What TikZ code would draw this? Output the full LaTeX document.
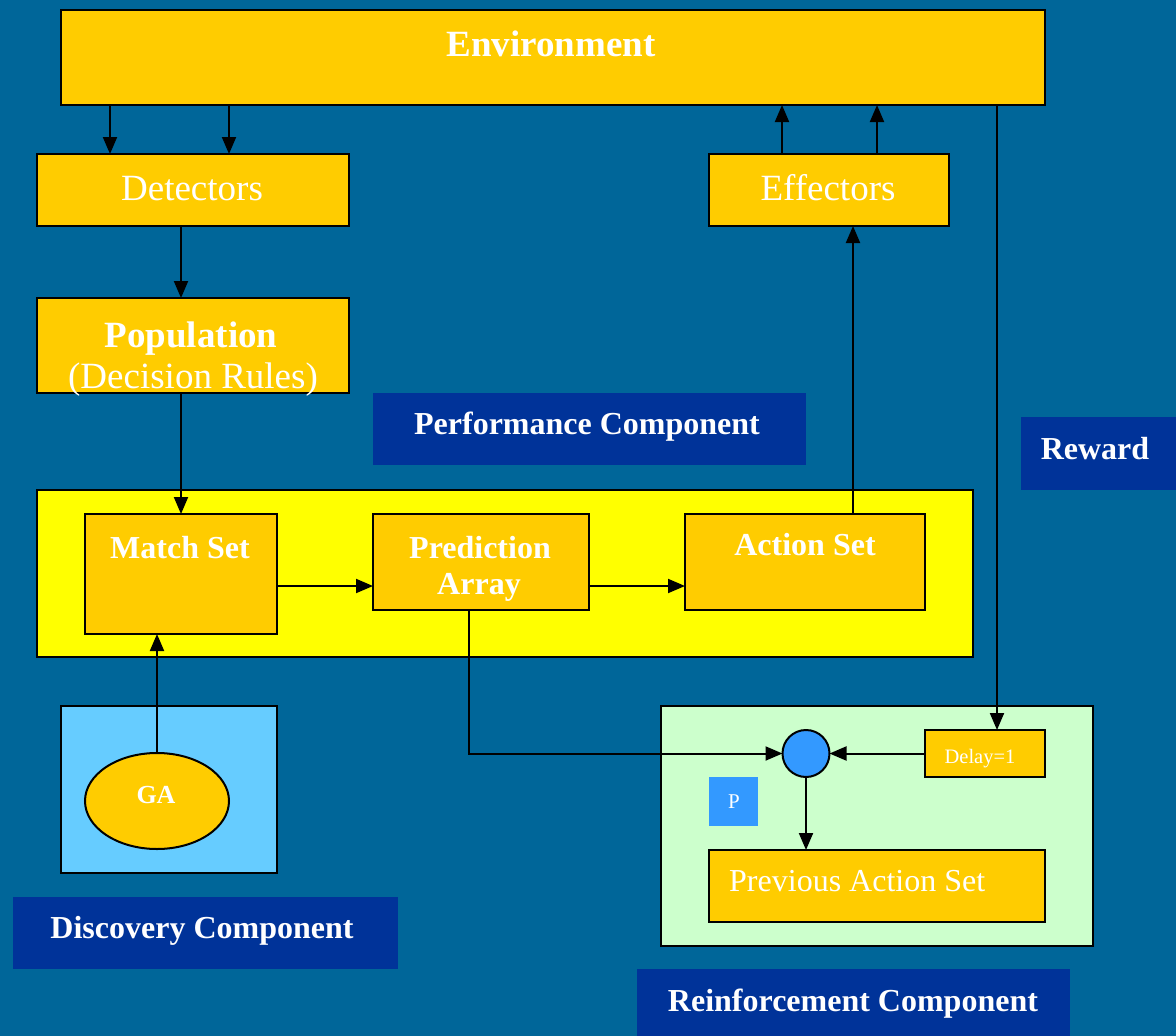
\documentclass[tikz,border=0pt]{standalone}
\usepackage{fontspec}
\setmainfont{Liberation Serif}
\usetikzlibrary{arrows.meta,shapes.geometric}
\definecolor{bgblue}{HTML}{006699}
\definecolor{gold}{HTML}{FFCC00}
\definecolor{brightyellow}{HTML}{FFFF00}
\definecolor{labelblue}{HTML}{003399}
\definecolor{skyfill}{HTML}{66CCFF}
\definecolor{mintfill}{HTML}{CCFFCC}
\definecolor{dotblue}{HTML}{3399FF}
\tikzset{
  boxbase/.style={rectangle, draw=black, line width=2pt, inner sep=0pt, outer sep=0pt, anchor=north west},
  goldbox/.style={boxbase, fill=gold},
  labelbox/.style={rectangle, fill=labelblue, inner sep=0pt, outer sep=0pt, anchor=north west},
  txt/.style={text=white, inner sep=0pt, anchor=base},
  bigfont/.style={font=\fontsize{37}{40}\selectfont},
  midfont/.style={font=\fontsize{32}{36}\selectfont\bfseries},
  arr/.style={-{Triangle[length=17pt,width=14pt]}, line width=2pt},
}
\begin{document}
\begin{tikzpicture}[x=1pt,y=-1pt]
\useasboundingbox (0,0) rectangle (1176,1036);
\fill[bgblue] (0,0) rectangle (1176,1036);

% boxes
\node[goldbox, minimum width=984pt, minimum height=95pt] (env) at (61,10) {};
\node[goldbox, minimum width=312pt, minimum height=72pt] (det) at (37,154) {};
\node[goldbox, minimum width=240pt, minimum height=72pt] (eff) at (709,154) {};
\node[goldbox, minimum width=312pt, minimum height=95pt] (pop) at (37,298) {};
\node[labelbox, minimum width=433pt, minimum height=72pt] (perfL) at (373,393) {};
\node[labelbox, minimum width=160pt, minimum height=73pt] (rewL) at (1021,417) {};
\node[boxbase, fill=brightyellow, minimum width=936pt, minimum height=167pt] (outer) at (37,490) {};
\node[goldbox, minimum width=192pt, minimum height=120pt] (match) at (85,514) {};
\node[goldbox, minimum width=216pt, minimum height=96pt] (pred) at (373,514) {};
\node[goldbox, minimum width=240pt, minimum height=96pt] (act) at (685,514) {};
\node[boxbase, fill=skyfill, minimum width=216pt, minimum height=167pt] (disc) at (61,706) {};
\node[boxbase, fill=gold, ellipse, anchor=center, minimum width=144pt, minimum height=96pt] (ga) at (157,801) {};
\node[labelbox, minimum width=385pt, minimum height=72pt] (discL) at (13,897) {};
\node[boxbase, fill=mintfill, minimum width=432pt, minimum height=240pt] (reinf) at (661,706) {};
\node[boxbase, fill=dotblue, circle, anchor=center, minimum size=47pt] (circ) at (806,753.5) {};
\node[goldbox, minimum width=120pt, minimum height=47pt] (delay) at (925,730) {};
\node[rectangle, fill=dotblue, inner sep=0pt, anchor=north west, minimum width=49pt, minimum height=49pt] (pbox) at (709,777) {};
\node[goldbox, minimum width=336pt, minimum height=72pt] (prev) at (709,850) {};
\node[labelbox, minimum width=433pt, minimum height=70pt] (reinfL) at (637,969) {};

% helper coordinates for connector positions
\coordinate (x110) at (110,0);
\coordinate (x229) at (229,0);
\coordinate (x782) at (782,0);
\coordinate (x877) at (877,0);
\coordinate (x181) at (181,0);
\coordinate (x853) at (853,0);
\coordinate (x997) at (997,0);
\coordinate (x469) at (469,0);
\coordinate (y586) at (0,586);

% connectors
\draw[arr] (env.south -| x110) -- (det.north -| x110);
\draw[arr] (env.south -| x229) -- (det.north -| x229);
\draw[arr] (eff.north -| x782) -- (env.south -| x782);
\draw[arr] (eff.north -| x877) -- (env.south -| x877);
\draw[arr] (det.south -| x181) -- (pop.north -| x181);
\draw[arr] (pop.south -| x181) -- (match.north -| x181);
\draw[arr] (match.east |- y586) -- (pred.west |- y586);
\draw[arr] (pred.east |- y586) -- (act.west |- y586);
\draw[arr] (act.north -| x853) -- (eff.south -| x853);
\draw[arr] (env.south -| x997) -- (delay.north -| x997);
\draw[arr] (pred.south -| x469) |- (circ.west);
\draw[arr] (delay.west) -- (circ.east);
\draw[arr] (circ.south) -- (prev.north -| circ.south);
\draw[arr] (ga.north) -- (match.south -| ga.north);

% texts
\node[txt, bigfont] (envT) at (551,56) {\bfseries Environment};
\node[txt, bigfont] (detT) at (192,200) {Detectors};
\node[txt, bigfont] (effT) at (828,200) {Effectors};
\node[txt, bigfont] (popT) at (191,347) {\bfseries Population};
\node[txt, bigfont] (popT2) at (193,388) {(Decision Rules)};
\node[txt, midfont] (perfT) at (587,434) {Performance Component};
\node[txt, midfont] (rewT) at (1095,459) {Reward};
\node[txt, midfont] (matchT) at (180,558) {Match Set};
\node[txt, midfont] (predT) at (480,558) {Prediction};
\node[txt, midfont] (predT2) at (479,594) {Array};
\node[txt, midfont] (actT) at (805,555) {Action Set};
\node[txt, font=\fontsize{26}{30}\selectfont\bfseries] (gaT) at (156,803) {GA};
\node[txt, midfont] (discT) at (202,938) {Discovery Component};
\node[txt, font=\fontsize{20.5}{24}\selectfont] (delayT) at (980,763) {Delay=1};
\node[txt, font=\fontsize{21}{24}\selectfont] (pT) at (734,808) {P};
\node[txt, font=\fontsize{32}{36}\selectfont, anchor=base west] (prevT) at (729,891) {Previous Action Set};
\node[txt, midfont] (reinfT) at (853,1011) {Reinforcement Component};
\end{tikzpicture}
\end{document}
